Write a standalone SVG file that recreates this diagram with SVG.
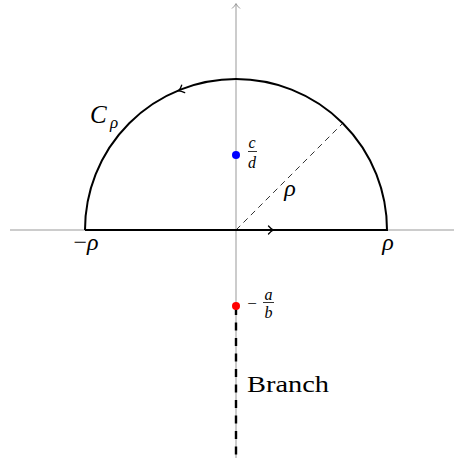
<svg xmlns="http://www.w3.org/2000/svg" width="454" height="458" viewBox="0 0 454 458">
<defs>
<style>
.axis{stroke:#999;stroke-width:1;fill:none}
.contour{stroke:#000;stroke-width:2;fill:none}
.tip{stroke:#000;stroke-width:1.3;fill:none;stroke-linecap:round}
.m{font-family:"Liberation Serif","Times New Roman",serif;font-style:italic;fill:#000}
.r{font-family:"Liberation Serif","Times New Roman",serif;fill:#000}
</style>
<path id="chev" d="M-4.5,-4 Q-2,-1 0.5,0 Q-2,1 -4.5,4"/>
</defs>
<rect width="454" height="458" fill="#fff"/>
<g id="connectors">
<line class="axis" x1="10" y1="230" x2="454" y2="230"/>
<line class="axis" x1="236" y1="458" x2="236" y2="4"/>
<use href="#chev" class="axis" transform="translate(236,4) rotate(-90)"/>
<path class="contour" d="M85,230 L387,230 A151,151 0 0 0 85,230"/>
<use href="#chev" class="tip" transform="translate(273,230)"/>
<use href="#chev" class="tip" transform="translate(179,90.6) rotate(157.8)"/>
<line x1="236" y1="230" x2="343" y2="123" stroke="#000" stroke-width="0.8" stroke-dasharray="6,4.5"/>
<line x1="236" y1="307" x2="236" y2="458" stroke="#000" stroke-width="2.4" stroke-dasharray="8,7.5"/>
</g>
<g id="pole-cd">
<circle cx="236" cy="155" r="4" fill="#0000ff"/>
<text class="m" x="252" y="148" font-size="16" text-anchor="middle">c</text>
<line x1="248" y1="151.5" x2="257" y2="151.5" stroke="#000" stroke-width="0.8"/>
<text class="m" x="252" y="168" font-size="16" text-anchor="middle">d</text>
</g>
<g id="branch-point">
<circle cx="236" cy="306" r="4" fill="#ff0000"/>
<text class="r" x="252" y="308.5" font-size="17" text-anchor="middle">−</text>
<text class="m" x="268.5" y="300" font-size="16" text-anchor="middle">a</text>
<line x1="263" y1="302.5" x2="274" y2="302.5" stroke="#000" stroke-width="0.8"/>
<text class="m" x="268.5" y="318" font-size="16" text-anchor="middle">b</text>
</g>
<g id="labels">
<text class="m" x="90" y="123" font-size="25">C</text>
<text class="m" x="110" y="128" font-size="17">ρ</text>
<text class="m" x="86" y="250" font-size="24" text-anchor="middle"><tspan font-style="normal">−</tspan>ρ</text>
<text class="m" x="388" y="250" font-size="24" text-anchor="middle">ρ</text>
<text class="m" x="290" y="196" font-size="24" text-anchor="middle">ρ</text>
<text class="r" x="247" y="392" font-size="24" textLength="82" lengthAdjust="spacingAndGlyphs">Branch</text>
</g>
</svg>
